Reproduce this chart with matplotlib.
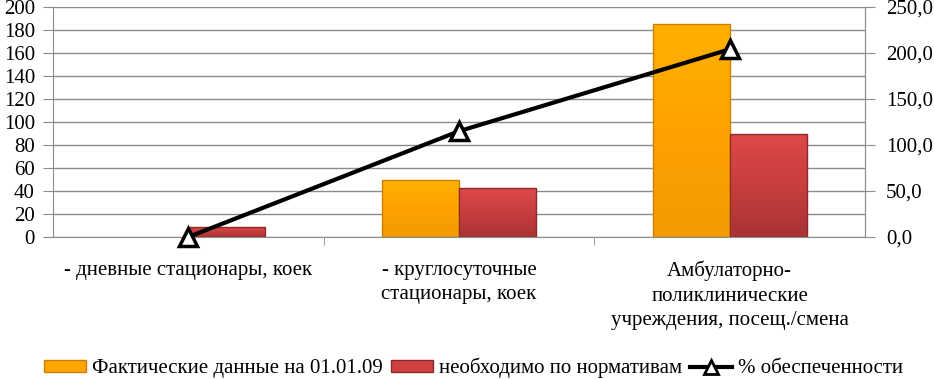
import numpy as np
import matplotlib
matplotlib.use("Agg")
from matplotlib import pyplot as plt
from matplotlib.ticker import FuncFormatter, FixedLocator
from matplotlib.patches import Patch
from matplotlib.lines import Line2D
from matplotlib.colors import LinearSegmentedColormap

categories = ["- дневные стационары, коек",
              "- круглосуточные\nстационары, коек",
              "Амбулаторно-\nполиклинические\nучреждения, посещ./смена"]
actual = [0, 50, 185]
required = [9, 43, 90]
coverage = [0.0, 115.0, 204.0]

series_names = ["Фактические данные на 01.01.09", "необходимо по нормативам",
                "% обеспеченности"]

plt.rcParams['font.family'] = ['Liberation Serif', 'DejaVu Serif']

fig = plt.figure(figsize=(9.34, 3.79), dpi=100)
ax = fig.add_axes([53 / 934, 1 - 237 / 379, (865 - 53) / 934, 230 / 379])

x = np.arange(len(categories))
w = 0.285

orange_cmap = LinearSegmentedColormap.from_list("o", ["#FFB000", "#FFA200", "#F29A00"])
red_cmap = LinearSegmentedColormap.from_list("r", ["#E04848", "#C83E3E", "#A83434"])


def gradient_bars(xs, heights, cmap, edge):
    bars = ax.bar(xs, heights, width=w, color="none", edgecolor=edge,
                  linewidth=1, zorder=2)
    grad = np.linspace(0, 1, 64).reshape(-1, 1)
    for b in bars:
        if b.get_height() <= 0:
            b.set_edgecolor("none")
            continue
        x0, y0 = b.get_x(), b.get_y()
        im = ax.imshow(grad, cmap=cmap, aspect="auto", zorder=1.5,
                       extent=[x0, x0 + b.get_width(), y0, y0 + b.get_height()],
                       origin="upper")
        im.set_clip_path(b)
    return bars


gradient_bars(x - w / 2, actual, orange_cmap, "#C88000")
gradient_bars(x + w / 2, required, red_cmap, "#8A2A2A")

ax.set_xlim(-0.5, 2.5)
ax.set_ylim(0, 200)
ax.set_yticks(range(0, 201, 20))
ax.yaxis.grid(True, color="#8c8c8c", linewidth=1)
ax.set_axisbelow(True)

ax.set_xticks(x)
ax.set_xticklabels(categories, fontsize=15, linespacing=1.4, va="top")
ax.tick_params(axis="x", which="major", length=0, pad=17)
ax.xaxis.set_minor_locator(FixedLocator([0.5, 1.5]))
ax.tick_params(axis="x", which="minor", length=6, color="#8c8c8c", direction="out")
ax.tick_params(axis="y", labelsize=15, length=7, color="#8c8c8c", pad=6)

ax.spines["top"].set_visible(False)
for s in ["left", "bottom", "right"]:
    ax.spines[s].set_color("#8c8c8c")

ax2 = ax.twinx()
ax2.set_ylim(0, 250)
ax2.set_yticks(range(0, 251, 50))
ax2.yaxis.set_major_formatter(FuncFormatter(lambda v, p: f"{v:.1f}".replace(".", ",")))
ax2.tick_params(axis="y", labelsize=15, length=7, color="#8c8c8c", pad=8)
for s in ["top", "left", "bottom"]:
    ax2.spines[s].set_visible(False)
ax2.spines["right"].set_color("#8c8c8c")
ax2.plot(x, coverage, color="black", linewidth=3, marker="^", markersize=13,
         markerfacecolor="white", markeredgecolor="black", markeredgewidth=2.5,
         zorder=5, clip_on=False)

handles = [Patch(facecolor="#FFA500", edgecolor="#C88000"),
           Patch(facecolor="#D04040", edgecolor="#8A2A2A"),
           Line2D([], [], color="black", linewidth=3, marker="^", markersize=10,
                  markerfacecolor="white", markeredgecolor="black", markeredgewidth=2)]
fig.legend(handles, series_names, loc="center", bbox_to_anchor=(0.507, 1 - 368 / 379),
           ncol=3, frameon=False, fontsize=15, handlelength=2.0, handleheight=0.5,
           handletextpad=0.3, columnspacing=0.4)

fig.savefig("out.png", dpi=100)
